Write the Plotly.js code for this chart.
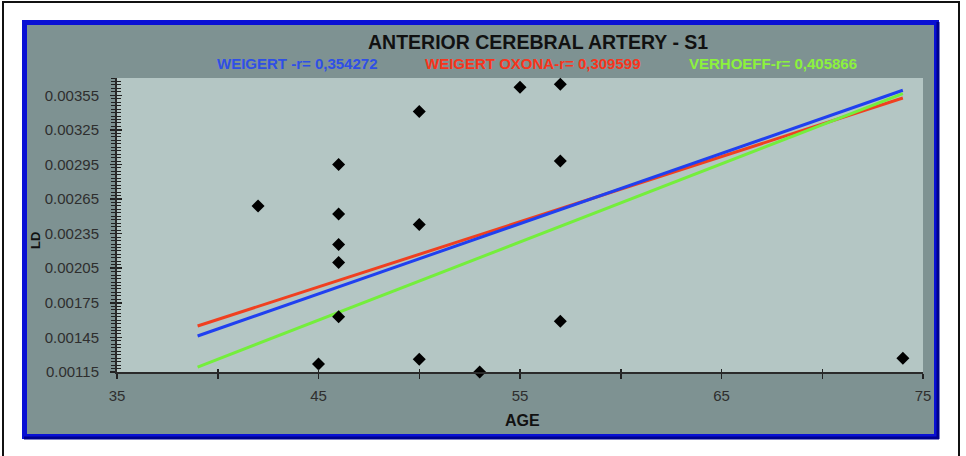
<!DOCTYPE html>
<html>
<head>
<meta charset="utf-8">
<script src="https://cdn.plot.ly/plotly-3.0.1.min.js"></script>
<style>html,body{margin:0;padding:0;background:#fff;}#chart{width:966px;height:456px;}</style>
</head>
<body>
<div id="chart"></div>
<script>
// ---- data ----
const ageValues = [42, 46, 46, 46, 46, 46, 45, 50, 50, 50, 53, 55, 57, 57, 57, 74];
const ldValues  = [0.00259, 0.00295, 0.00252, 0.002255, 0.0021, 0.00163, 0.00122, 0.00341, 0.00243, 0.00126, 0.00115, 0.00362, 0.003645, 0.00298, 0.00159, 0.00127];

const trendAge = [39, 74];
const weigertLine      = [0.001462, 0.003594];
const weigertOxonaLine = [0.001549, 0.003527];
const verhoeffLine     = [0.001193, 0.003565];

const seriesNames = ['WEIGERT -r= 0,354272', 'WEIGERT OXONA-r= 0,309599', 'VERHOEFF-r= 0,405866'];
const chartTitle = 'ANTERIOR CEREBRAL ARTERY - S1';
const xTickVals = [35, 45, 55, 65, 75];
const yTickVals = [0.00115, 0.00145, 0.00175, 0.00205, 0.00235, 0.00265, 0.00295, 0.00325, 0.00355];

// ---- layout geometry ----
const W = 966, H = 456;
const M = {l: 117, r: 43, t: 78, b: 84};
const PW = W - M.l - M.r, PH = H - M.t - M.b;
const px = x => (x - M.l) / PW;
const py = y => (H - M.b - y) / PH;

const FONT = 'Liberation Sans, Arial, sans-serif';
const BLUE = '#2f4fe6', RED = '#f8341c', GREEN = '#8cf23c';

const traces = [
  {x: trendAge, y: weigertOxonaLine, mode: 'lines', line: {color: '#f04020', width: 3}, xaxis: 'x', yaxis: 'y', hoverinfo: 'skip'},
  {x: trendAge, y: weigertLine, mode: 'lines', line: {color: '#2040f0', width: 3}, xaxis: 'x', yaxis: 'y', hoverinfo: 'skip'},
  {x: trendAge, y: verhoeffLine, mode: 'lines', line: {color: '#74ee3c', width: 3}, xaxis: 'x', yaxis: 'y', hoverinfo: 'skip'},
  {x: ageValues, y: ldValues, mode: 'markers', marker: {symbol: 'diamond', size: 10, color: '#000'}, cliponaxis: false, xaxis: 'x2', yaxis: 'y2'}
];

const xRange = [35, 75], yRange = [0.00115, 0.0037];
const tickFont = {family: FONT, size: 15, color: '#2e2e2e'};

const layout = {
  width: W, height: H,
  margin: M,
  paper_bgcolor: '#ffffff',
  plot_bgcolor: 'rgba(0,0,0,0)',
  showlegend: false,
  xaxis: {
    range: xRange, tickvals: xTickVals, ticks: 'outside', ticklen: 5, tickwidth: 1.5, tickcolor: '#222',
    minor: {dtick: 5, tick0: 35, ticks: 'outside', ticklen: 5, tickwidth: 1.5, tickcolor: '#222'},
    showgrid: false, zeroline: false, showline: true, linecolor: '#2a2a2a', linewidth: 2,
    tickfont: tickFont, ticklabelstandoff: 4
  },
  yaxis: {
    range: yRange, tickvals: yTickVals, tickformat: '.5f', ticks: 'outside', ticklen: 5, tickwidth: 1.5, tickcolor: '#222',
    minor: {dtick: 0.00003, tick0: 0.00115, ticks: 'outside', ticklen: 4, tickwidth: 1, tickcolor: '#222'},
    showgrid: false, zeroline: false, showline: true, linecolor: '#2a2a2a', linewidth: 2,
    tickfont: tickFont, ticklabelstandoff: 8
  },
  xaxis2: {
    range: xRange, overlaying: 'x', anchor: 'y2', side: 'bottom', tickvals: xTickVals, ticks: 'inside', ticklen: 3, tickwidth: 1.5, tickcolor: '#222',
    minor: {dtick: 5, tick0: 35, ticks: 'inside', ticklen: 3, tickwidth: 1.5, tickcolor: '#222'},
    showticklabels: false, showgrid: false, zeroline: false, showline: false
  },
  yaxis2: {
    range: yRange, overlaying: 'y', anchor: 'x2', side: 'left', tickvals: yTickVals, ticks: 'inside', ticklen: 5, tickwidth: 1.5, tickcolor: '#222',
    minor: {dtick: 0.00003, tick0: 0.00115, ticks: 'inside', ticklen: 4, tickwidth: 1, tickcolor: '#222'},
    showticklabels: false, showgrid: false, zeroline: false, showline: false
  },
  shapes: [
    {type: 'rect', xref: 'paper', yref: 'paper', layer: 'below', x0: px(3), x1: px(959), y0: py(2), y1: py(459), fillcolor: '#ffffff', line: {color: '#111', width: 2}},
    {type: 'rect', xref: 'paper', yref: 'paper', layer: 'below', x0: px(24.5), x1: px(936.5), y0: py(22.5), y1: py(436.5), fillcolor: '#7e9292', line: {color: '#0a10d4', width: 5}},
    {type: 'line', xref: 'paper', yref: 'paper', layer: 'below', x0: px(24), x1: px(939), y0: py(438), y1: py(438), line: {color: '#00008c', width: 3}},
    {type: 'line', xref: 'paper', yref: 'paper', layer: 'below', x0: px(938), x1: px(938), y0: py(22), y1: py(439), line: {color: '#00008c', width: 3}},
    {type: 'rect', xref: 'paper', yref: 'paper', layer: 'below', x0: 0, x1: 1, y0: 0, y1: 1, fillcolor: '#b4c6c4', line: {width: 0}}
  ],
  annotations: [
    {text: chartTitle, xref: 'paper', yref: 'paper', x: px(538), y: py(42), xanchor: 'center', yanchor: 'middle', showarrow: false,
     font: {family: FONT, size: 19.5, weight: 'bold', color: '#111'}},
    {text: seriesNames[0], xref: 'paper', yref: 'paper', x: px(297), y: py(64), xanchor: 'center', yanchor: 'middle', showarrow: false,
     font: {family: FONT, size: 15, weight: 'bold', color: BLUE}},
    {text: seriesNames[1], xref: 'paper', yref: 'paper', x: px(533), y: py(64), xanchor: 'center', yanchor: 'middle', showarrow: false,
     font: {family: FONT, size: 15, weight: 'bold', color: RED}},
    {text: seriesNames[2], xref: 'paper', yref: 'paper', x: px(773), y: py(64), xanchor: 'center', yanchor: 'middle', showarrow: false,
     font: {family: FONT, size: 15, weight: 'bold', color: GREEN}},
    {text: 'LD', xref: 'paper', yref: 'paper', x: px(35), y: py(241), xanchor: 'center', yanchor: 'middle', textangle: -90, showarrow: false,
     font: {family: FONT, size: 13, weight: 'bold', color: '#111'}},
    {text: 'AGE', xref: 'paper', yref: 'paper', x: px(522), y: py(420), xanchor: 'center', yanchor: 'middle', showarrow: false,
     font: {family: FONT, size: 16, weight: 'bold', color: '#111'}}
  ]
};

Plotly.newPlot('chart', traces, layout, {displayModeBar: false, staticPlot: true});
</script>
</body>
</html>
